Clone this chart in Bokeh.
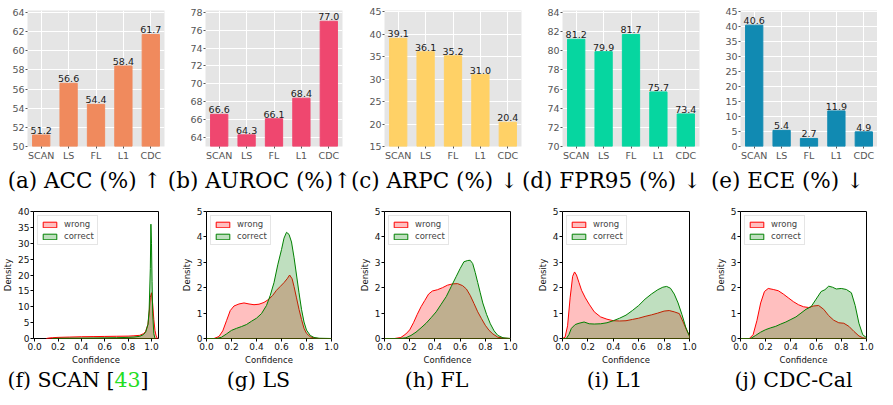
from bokeh.plotting import figure
from bokeh.layouts import row, column
from bokeh.models import (Range1d, FactorRange, FixedTicker, Label, Legend,
                          LegendItem, PrintfTickFormatter)
from bokeh.core.properties import value
from bokeh.embed import file_html
from bokeh.resources import INLINE

# ---------------- data: top row (bar charts) ----------------
methods = ["SCAN", "LS", "FL", "L1", "CDC"]
acc = [51.2, 56.6, 54.4, 58.4, 61.7]
auroc = [66.6, 64.3, 66.1, 68.4, 77.0]
arpc = [39.1, 36.1, 35.2, 31.0, 20.4]
fpr95 = [81.2, 79.9, 81.7, 75.7, 73.4]
ece = [40.6, 5.4, 2.7, 11.9, 4.9]
bar_series = [acc, auroc, arpc, fpr95, ece]
bar_colors = ["#F08A5D", "#EF476F", "#FFD166", "#06D6A0", "#118AB2"]
captions_top = ["(a) ACC (%) \u2191", "(b) AUROC (%)\u2191", "(c) ARPC (%) \u2193",
                "(d) FPR95 (%) \u2193", "(e) ECE (%) \u2193"]
y_ranges_top = [(50, 64.2), (63, 78.2), (15, 45.3), (70, 84.2), (0, 45.5)]
y_ticks_top = [[50, 52, 54, 56, 58, 60, 62, 64], [64, 66, 68, 70, 72, 74, 76, 78],
               [15, 20, 25, 30, 35, 40, 45], [70, 72, 74, 76, 78, 80, 82, 84],
               [0, 5, 10, 15, 20, 25, 30, 35, 40, 45]]

# ---------------- data: bottom row (confidence densities) ----------------
scan_wrong_x = [0.10, 0.12, 0.15, 0.20, 0.30, 0.40, 0.50, 0.60, 0.70, 0.80, 0.85, 0.90, 0.93,
                0.95, 0.97, 0.98, 0.99, 1.00, 1.01, 1.02, 1.03, 1.04, 1.05]
scan_wrong_y = [0.0, 0.15, 0.25, 0.35, 0.45, 0.55, 0.6, 0.65, 0.7, 0.75, 0.85, 1.0, 1.5,
                2.2, 4.5, 8.0, 13.0, 14.4, 11.0, 6.0, 2.5, 0.8, 0.0]
scan_correct_x = [0.15, 0.20, 0.30, 0.40, 0.50, 0.60, 0.70, 0.80, 0.85, 0.90, 0.93, 0.95, 0.97,
                  0.98, 0.99, 0.995, 1.00, 1.005, 1.01, 1.02, 1.03]
scan_correct_y = [0.0, 0.05, 0.1, 0.12, 0.15, 0.2, 0.25, 0.35, 0.45, 0.7, 1.2, 2.0, 4.5,
                  9.0, 22.0, 36.0, 30.0, 18.0, 8.0, 1.5, 0.0]

ls_wrong_x = [0.0, 0.06, 0.10, 0.13, 0.16, 0.19, 0.22, 0.26, 0.30, 0.34, 0.38, 0.42, 0.46, 0.50,
              0.53, 0.56, 0.59, 0.62, 0.645, 0.665, 0.685, 0.70, 0.72, 0.74, 0.76, 0.78, 0.80,
              0.83, 0.86, 0.90, 1.0]
ls_wrong_y = [0.0, 0.0, 0.08, 0.3, 0.7, 1.1, 1.28, 1.36, 1.40, 1.36, 1.33, 1.35, 1.42, 1.55,
              1.7, 1.9, 2.05, 2.2, 2.35, 2.5, 2.35, 2.05, 1.6, 1.15, 0.75, 0.4, 0.2,
              0.07, 0.02, 0.0, 0.0]
ls_correct_x = [0.0, 0.08, 0.12, 0.16, 0.20, 0.24, 0.28, 0.32, 0.36, 0.40, 0.44, 0.48, 0.51,
                0.54, 0.57, 0.60, 0.62, 0.64, 0.66, 0.68, 0.70, 0.72, 0.74, 0.76, 0.78, 0.80,
                0.83, 0.86, 0.90, 1.0]
ls_correct_y = [0.0, 0.0, 0.05, 0.18, 0.32, 0.4, 0.47, 0.55, 0.68, 0.8, 0.98, 1.3, 1.7,
                2.2, 2.9, 3.5, 3.95, 4.18, 4.1, 3.8, 3.2, 2.5, 1.8, 1.15, 0.65, 0.33,
                0.12, 0.04, 0.01, 0.0]

fl_wrong_x = [0.0, 0.08, 0.13, 0.17, 0.20, 0.23, 0.26, 0.29, 0.32, 0.35, 0.38, 0.42, 0.46, 0.50,
              0.54, 0.58, 0.62, 0.65, 0.68, 0.71, 0.74, 0.77, 0.80, 0.83, 0.86, 0.90, 0.95, 1.0]
fl_wrong_y = [0.0, 0.0, 0.04, 0.18, 0.34, 0.62, 0.95, 1.25, 1.5, 1.75, 1.87, 1.92, 2.0, 2.1,
              2.15, 2.16, 2.08, 1.95, 1.7, 1.38, 1.05, 0.78, 0.52, 0.32, 0.18, 0.05, 0.01, 0.0]
fl_correct_x = [0.0, 0.12, 0.17, 0.21, 0.25, 0.29, 0.33, 0.37, 0.41, 0.45, 0.49, 0.53, 0.57,
                0.60, 0.63, 0.66, 0.68, 0.70, 0.72, 0.74, 0.76, 0.78, 0.81, 0.84, 0.87, 0.90,
                0.94, 1.0]
fl_correct_y = [0.0, 0.0, 0.03, 0.12, 0.25, 0.42, 0.6, 0.82, 1.05, 1.35, 1.65, 2.05, 2.45,
                2.75, 3.02, 3.07, 3.08, 2.95, 2.6, 2.2, 1.8, 1.4, 0.95, 0.58, 0.3, 0.12,
                0.03, 0.0]

l1_wrong_x = [0.0, 0.02, 0.04, 0.06, 0.08, 0.095, 0.11, 0.13, 0.15, 0.18, 0.21, 0.25, 0.30,
              0.35, 0.40, 0.45, 0.50, 0.55, 0.60, 0.65, 0.70, 0.75, 0.80, 0.84, 0.88, 0.92,
              0.95, 0.98, 1.0]
l1_wrong_y = [0.0, 0.05, 0.5, 1.6, 2.45, 2.62, 2.5, 2.2, 1.9, 1.6, 1.35, 1.05, 0.85,
              0.76, 0.7, 0.69, 0.7, 0.75, 0.8, 0.87, 0.93, 1.0, 1.08, 1.1, 1.05, 0.98,
              0.65, 0.3, 0.12]
l1_correct_x = [0.0, 0.03, 0.05, 0.07, 0.10, 0.13, 0.17, 0.21, 0.25, 0.30, 0.35, 0.40, 0.45,
                0.50, 0.55, 0.60, 0.65, 0.70, 0.75, 0.79, 0.82, 0.85, 0.88, 0.91, 0.94, 0.97,
                1.0]
l1_correct_y = [0.0, 0.0, 0.15, 0.4, 0.55, 0.6, 0.65, 0.58, 0.57, 0.58, 0.62, 0.7, 0.8,
                0.92, 1.1, 1.3, 1.55, 1.75, 1.92, 2.02, 2.05, 1.98, 1.75, 1.4, 0.95, 0.45,
                0.08]

cdc_wrong_x = [0.0, 0.07, 0.10, 0.13, 0.16, 0.19, 0.22, 0.26, 0.30, 0.34, 0.38, 0.42, 0.46,
               0.50, 0.54, 0.58, 0.62, 0.66, 0.70, 0.74, 0.78, 0.82, 0.86, 0.90, 0.94, 0.97,
               1.0]
cdc_wrong_y = [0.0, 0.0, 0.15, 0.7, 1.4, 1.85, 1.97, 1.93, 1.88, 1.75, 1.6, 1.45, 1.33,
               1.25, 1.22, 1.28, 1.3, 1.15, 0.9, 0.72, 0.62, 0.6, 0.48, 0.28, 0.1, 0.03,
               0.0]
cdc_correct_x = [0.0, 0.08, 0.12, 0.16, 0.20, 0.24, 0.28, 0.32, 0.36, 0.40, 0.44, 0.48, 0.52,
                 0.56, 0.60, 0.64, 0.67, 0.70, 0.73, 0.76, 0.80, 0.84, 0.88, 0.91, 0.94, 0.97,
                 1.0]
cdc_correct_y = [0.0, 0.0, 0.12, 0.25, 0.35, 0.42, 0.48, 0.57, 0.65, 0.75, 0.85, 1.0, 1.15,
                 1.25, 1.55, 1.85, 1.92, 2.06, 2.02, 1.95, 1.97, 1.93, 1.8, 1.3, 0.6, 0.15,
                 0.03]

density_sets = [
    (scan_wrong_x, scan_wrong_y, scan_correct_x, scan_correct_y),
    (ls_wrong_x, ls_wrong_y, ls_correct_x, ls_correct_y),
    (fl_wrong_x, fl_wrong_y, fl_correct_x, fl_correct_y),
    (l1_wrong_x, l1_wrong_y, l1_correct_x, l1_correct_y),
    (cdc_wrong_x, cdc_wrong_y, cdc_correct_x, cdc_correct_y),
]
x_ranges_bot = [(-0.01, 1.06), (0, 1), (0, 1), (0, 1), (0, 1)]
y_ranges_bot = [(0, 40), (0, 5), (0, 5), (0, 5), (0, 5)]
y_ticks_bot = [[0, 5, 10, 15, 20, 25, 30, 35, 40]] + [[0, 1, 2, 3, 4, 5]] * 4
x_ticks_bot = [0.0, 0.2, 0.4, 0.6, 0.8, 1.0]
captions_bot = ["(g) LS", "(h) FL", "(i) L1", "(j) CDC-Cal"]

SANS = "DejaVu Sans"
SERIF = "DejaVu Serif"
CAP_SIZE_TOP = "21.5px"
CAP_SIZE_BOT = "20.5px"
TOTAL_W = 877

# ---------------- layout geometry ----------------
top_w = [178, 178, 178, 178, 165]
top_left = [27, 27, 28, 28, 28]
top_cap_cx = [84, 259, 434, 611, 787]
bot_w = [178, 178, 178, 178, 164]
bot_left = [30, 25, 26, 27, 26]
bot_cap_cx = [78, 258, 436, 614, 793]
FRAME_TOP_W = 137
FRAME_BOT_W = 128


def caption_strip(height):
    s = figure(width=TOTAL_W, height=height, x_range=Range1d(0, TOTAL_W),
               y_range=Range1d(0, height), x_axis_type=None, y_axis_type=None,
               output_backend="svg", toolbar_location=None,
               min_border_left=0, min_border_right=0, min_border_top=0, min_border_bottom=0)
    s.outline_line_color = None
    s.xgrid.visible = False
    s.ygrid.visible = False
    return s


def cap_label(x, y, text, size, align="center", color="black"):
    return Label(x=x, y=y, x_units="screen", y_units="screen", text=text,
                 text_align=align, text_baseline="middle", text_font=SERIF,
                 text_font_size=size, text_color=color)


top_figs = []
for i, vals in enumerate(bar_series):
    p = figure(x_range=FactorRange(factors=methods), y_range=Range1d(*y_ranges_top[i]),
               width=top_w[i], height=166, output_backend="svg", toolbar_location=None,
               min_border_left=top_left[i], min_border_right=top_w[i] - top_left[i] - FRAME_TOP_W,
               min_border_top=10, min_border_bottom=20)
    p.background_fill_color = "#E5E5E5"
    p.border_fill_color = "white"
    p.outline_line_color = None
    p.xgrid.grid_line_color = "white"
    p.ygrid.grid_line_color = "white"
    p.xgrid.grid_line_width = 1
    p.ygrid.grid_line_width = 1
    p.vbar(x=methods, top=vals, width=0.63, color=bar_colors[i])
    p.text(x=methods, y=vals, text=[f"{v:.1f}" for v in vals], text_align="center",
           text_baseline="bottom", y_offset=-1, text_font=value(SANS),
           text_font_size=value("9.5px"), text_color="#1a1a1a")
    p.yaxis.ticker = FixedTicker(ticks=y_ticks_top[i])
    for ax in (p.xaxis[0], p.yaxis[0]):
        ax.axis_line_color = None
        ax.major_tick_line_color = "#555555"
        ax.major_tick_out = 2
        ax.major_tick_in = 0
        ax.minor_tick_line_color = None
        ax.major_label_text_font = SANS
        ax.major_label_text_font_size = "9.5px"
        ax.major_label_text_color = "#555555"
        ax.major_label_standoff = 1
    top_figs.append(p)

top_caps = caption_strip(29)
for i, cap in enumerate(captions_top):
    top_caps.add_layout(cap_label(top_cap_cx[i], 15, cap, CAP_SIZE_TOP))

bot_figs = []
for j, (wx, wy, cx, cy) in enumerate(density_sets):
    p = figure(x_range=Range1d(*x_ranges_bot[j]), y_range=Range1d(*y_ranges_bot[j]),
               width=bot_w[j], height=172, output_backend="svg", toolbar_location=None,
               min_border_left=bot_left[j], min_border_right=bot_w[j] - bot_left[j] - FRAME_BOT_W,
               min_border_top=16, min_border_bottom=28)
    p.background_fill_color = "white"
    p.outline_line_color = "black"
    p.outline_line_width = 1
    p.xgrid.visible = False
    p.ygrid.visible = False
    rw = p.patch(wx + [wx[-1], wx[0]], wy + [0, 0], fill_color="red", fill_alpha=0.25,
                 line_color="red", line_width=1)
    rc = p.patch(cx + [cx[-1], cx[0]], cy + [0, 0], fill_color="green", fill_alpha=0.25,
                 line_color="green", line_width=1)
    leg = Legend(items=[LegendItem(label="wrong", renderers=[rw]),
                        LegendItem(label="correct", renderers=[rc])],
                 location="top_left", label_text_font=SANS, label_text_font_size="8.5px",
                 glyph_width=17, glyph_height=7, label_height=9, label_standoff=6,
                 spacing=2, padding=3, margin=4, border_line_color="#cccccc",
                 border_line_width=1, background_fill_alpha=0.85)
    p.add_layout(leg)
    p.xaxis.ticker = FixedTicker(ticks=x_ticks_bot)
    p.xaxis.formatter = PrintfTickFormatter(format="%.1f")
    p.yaxis.ticker = FixedTicker(ticks=y_ticks_bot[j])
    p.yaxis.formatter = PrintfTickFormatter(format="%d")
    p.xaxis.axis_label = "Confidence"
    p.yaxis.axis_label = "Density"
    for ax in (p.xaxis[0], p.yaxis[0]):
        ax.axis_line_color = None
        ax.major_tick_line_color = "black"
        ax.major_tick_out = 3
        ax.major_tick_in = 0
        ax.minor_tick_line_color = None
        ax.major_label_text_font = SANS
        ax.major_label_text_font_size = "9px"
        ax.major_label_text_color = "#111111"
        ax.major_label_standoff = 1
        ax.axis_label_text_font = SANS
        ax.axis_label_text_font_size = "8.5px"
        ax.axis_label_text_font_style = "normal"
        ax.axis_label_text_color = "#111111"
        ax.axis_label_standoff = 2
    bot_figs.append(p)

bot_caps = caption_strip(25)
x0 = 114
bot_caps.add_layout(cap_label(x0, 13, "(f) SCAN [", CAP_SIZE_BOT, align="right"))
bot_caps.add_layout(cap_label(x0, 13, "43", CAP_SIZE_BOT, align="left", color="#22DD22"))
bot_caps.add_layout(cap_label(x0 + 26, 13, "]", CAP_SIZE_BOT, align="left"))
for j, cap in enumerate(captions_bot):
    bot_caps.add_layout(cap_label(bot_cap_cx[j + 1], 13, cap, CAP_SIZE_BOT))

layout = column(row(*top_figs, spacing=0), top_caps,
                row(*bot_figs, spacing=0), bot_caps, spacing=0)
open("out.html", "w").write(file_html(layout, INLINE))
